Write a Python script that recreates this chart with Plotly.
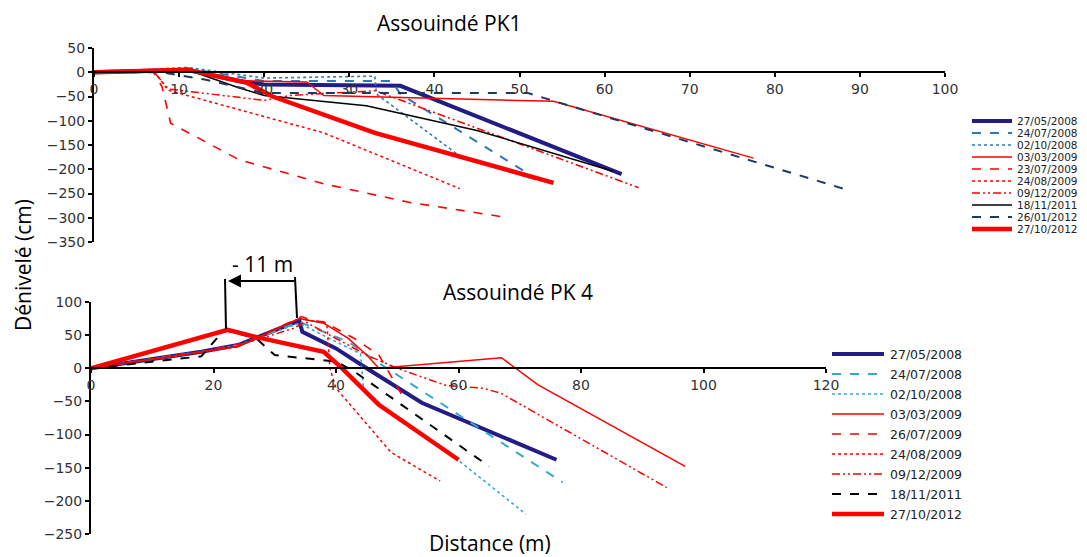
import plotly.graph_objects as go

W, H = 1087, 557

# ---------------- Data: Assouindé PK1 ----------------
pk1_names = ["27/05/2008", "24/07/2008", "02/10/2008", "03/03/2009", "23/07/2009",
             "24/08/2009", "09/12/2009", "18/11/2011", "26/01/2012", "27/10/2012"]
pk1_x = [
    [0, 5, 11, 17, 20, 36, 62],
    [0, 11, 20, 35, 36, 52],
    [0, 11, 20, 33, 33.2, 43, 52],
    [0, 11, 18, 25, 27, 54, 77.5],
    [0, 7, 8, 9, 17, 27, 37, 48],
    [0, 7, 8, 8.7, 27, 43],
    [0, 7, 8.5, 9, 20, 23, 33, 64],
    [0, 11, 17, 20, 32, 45, 61],
    [0, 8, 13, 20, 51, 89],
    [0, 11, 18, 21, 33, 43, 54],
]
pk1_y = [
    [0, 2, 5, -18, -25, -28, -210],
    [0, 8, -18, -18, -45, -220],
    [0, 10, -12, -8, -45, -173, -222],
    [0, 5, -18, -20, -48, -60, -177],
    [0, 0, -30, -105, -180, -230, -268, -298],
    [0, 2, -20, -37, -125, -240],
    [0, 2, -30, -35, -58, -48, -38, -238],
    [0, 5, -32, -48, -69, -120, -204],
    [0, 0, -15, -43, -43, -245],
    [0, 5, -22, -50, -125, -175, -228],
]

# ---------------- Data: Assouindé PK 4 ----------------
pk4_names = ["27/05/2008", "24/07/2008", "02/10/2008", "03/03/2009", "26/07/2009",
             "24/08/2009", "09/12/2009", "18/11/2011", "27/10/2012"]
pk4_x = [
    [0, 18, 24, 34, 34.5, 40, 45, 54, 76],
    [0, 18, 24, 34, 42, 47, 77],
    [0, 18, 24, 34, 40, 44, 44.5, 48, 60, 71],
    [0, 18, 24, 34, 38, 42, 45, 47, 67, 73, 97],
    [0, 18, 24, 34.4, 36, 38, 43, 47, 51],
    [0, 18, 24, 34, 38, 38.5, 39, 40, 49, 57],
    [0, 18, 26, 33, 35, 40, 45, 50, 54, 58, 64, 67, 94],
    [0, 18, 21, 22, 27, 30, 40, 43, 65],
    [0, 22.3, 27, 38, 41, 47, 60],
]
pk4_y = [
    [0, 25, 35, 72, 55, 30, 0, -52, -138],
    [0, 25, 35, 70, 40, 8, -172],
    [0, 25, 35, 68, 40, 22, -30, -60, -139, -220],
    [0, 25, 33, 75, 68, 45, 20, 0, 16, -25, -148],
    [0, 25, 33, 78, 72, 70, 45, 20, -44],
    [0, 25, 33, 75, 68, 68, 0, -30, -127, -170],
    [0, 25, 40, 60, 70, 45, 20, 0, -13, -26, -30, -38, -180],
    [0, 18, 50, 57, 45, 20, 10, -5, -148],
    [0, 58, 47, 25, 0, -55, -138],
]

pk1_ticks_x = [0, 10, 20, 30, 40, 50, 60, 70, 80, 90, 100]
pk1_ticks_y = [50, 0, -50, -100, -150, -200, -250, -300, -350]
pk4_ticks_x = [0, 20, 40, 60, 80, 100, 120]
pk4_ticks_y = [100, 50, 0, -50, -100, -150, -200, -250]

# ---------------- Styles ----------------
RED = "#FF0000"
NAVY = "#221C84"
BLUE = "#2E78B7"
CYAN = "#35A9CC"
DDOT = "8px,3px,2px,3px,2px,3px"
pk1_styles = [
    dict(color=NAVY, width=4, dash="solid"),
    dict(color=BLUE, width=2, dash="dash"),
    dict(color=BLUE, width=1.6, dash="dot"),
    dict(color=RED, width=1.5, dash="solid"),
    dict(color=RED, width=1.6, dash="dash"),
    dict(color=RED, width=1.5, dash="dot"),
    dict(color=RED, width=1.5, dash=DDOT),
    dict(color="#000000", width=1.5, dash="solid"),
    dict(color="#1F3A60", width=2, dash="dash"),
    dict(color=RED, width=4.5, dash="solid"),
]
pk4_styles = [
    dict(color=NAVY, width=4, dash="solid"),
    dict(color=CYAN, width=2, dash="dash"),
    dict(color=CYAN, width=1.6, dash="dot"),
    dict(color=RED, width=1.5, dash="solid"),
    dict(color=RED, width=1.6, dash="dash"),
    dict(color=RED, width=1.5, dash="dot"),
    dict(color=RED, width=1.5, dash=DDOT),
    dict(color="#000000", width=2, dash="dash"),
    dict(color=RED, width=4.5, dash="solid"),
]

# ---------------- Layout geometry (pixels -> paper) ----------------
OFF = 8  # the page body has an 8px margin


def px(v):
    return (v - OFF) / W


def py(v):
    return 1 - (v - OFF) / H


top_xd = [px(94), px(945)]
top_yd = [py(242), py(48)]
bot_xd = [px(91), px(826)]
bot_yd = [py(534), py(302)]
top_zero = top_yd[0] + (0 - (-350)) / 400 * (top_yd[1] - top_yd[0])
bot_zero = bot_yd[0] + (0 - (-250)) / 350 * (bot_yd[1] - bot_yd[0])

fig = go.Figure()
for n, xs, ys, st in zip(pk1_names, pk1_x, pk1_y, pk1_styles):
    fig.add_trace(go.Scatter(x=xs, y=ys, mode="lines", name=n, line=st,
                             xaxis="x", yaxis="y", showlegend=False))
for n, xs, ys, st in zip(pk4_names, pk4_x, pk4_y, pk4_styles):
    fig.add_trace(go.Scatter(x=xs, y=ys, mode="lines", name=n, line=st,
                             xaxis="x2", yaxis="y2", showlegend=False))

tickfont = dict(family="DejaVu Sans", size=14, color="#333333")
axis_common = dict(showgrid=False, zeroline=False, showline=True, linecolor="black",
                   linewidth=2, ticks="outside", ticklen=4, tickwidth=1.5,
                   tickcolor="black", tickfont=tickfont, automargin=False)

fig.update_layout(
    width=W, height=H,
    margin=dict(l=0, r=0, t=0, b=0),
    paper_bgcolor="white", plot_bgcolor="rgba(0,0,0,0)",
    showlegend=False,
    xaxis=dict(domain=top_xd, range=[0, 100], tickvals=pk1_ticks_x,
               anchor="free", position=top_zero, **axis_common),
    yaxis=dict(domain=top_yd, range=[-350, 50], tickvals=pk1_ticks_y,
               anchor="x", **axis_common),
    xaxis2=dict(domain=bot_xd, range=[0, 120], tickvals=pk4_ticks_x,
                anchor="free", position=bot_zero, **axis_common),
    yaxis2=dict(domain=bot_yd, range=[-250, 100], tickvals=pk4_ticks_y,
                anchor="x2", **axis_common),
)

annots = []
shapes = []
title_font = dict(family="Open Sans", size=21, color="black")
annots.append(dict(text="Assouindé PK1", x=px(449), y=1.0, xref="paper", yref="paper",
                   showarrow=False, font=title_font, xanchor="center", yanchor="top",
                   borderpad=0))
annots.append(dict(text="Assouindé PK 4", x=px(518), y=py(292), xref="paper", yref="paper",
                   showarrow=False, font=title_font, xanchor="center", yanchor="middle"))
annots.append(dict(text="Dénivelé (cm)", x=0.0, y=py(265), xref="paper", yref="paper",
                   showarrow=False, font=title_font, textangle=-90, borderpad=0,
                   xanchor="left", yanchor="middle"))
annots.append(dict(text="Distance (m)", x=px(490), y=py(543), xref="paper", yref="paper",
                   showarrow=False, font=title_font, xanchor="center", yanchor="middle"))
annots.append(dict(text="- 11 m", x=px(262), y=py(264), xref="paper", yref="paper",
                   showarrow=False, font=title_font, xanchor="center", yanchor="middle"))
# arrow
annots.append(dict(text="", x=px(228), y=py(281), xref="paper", yref="paper",
                   ax=68, ay=0, axref="pixel", ayref="pixel", showarrow=True,
                   arrowhead=2, arrowsize=1.3, arrowwidth=2, arrowcolor="black"))
shapes.append(dict(type="line", xref="paper", yref="paper", x0=px(225), x1=px(226),
                   y0=py(279), y1=py(329), line=dict(color="black", width=2)))
shapes.append(dict(type="line", xref="paper", yref="paper", x0=px(295), x1=px(297),
                   y0=py(277), y1=py(318), line=dict(color="black", width=2)))

# custom legends
leg_font1 = dict(family="DejaVu Sans", size=10.5, color="#222222")
for i, (n, st) in enumerate(zip(pk1_names, pk1_styles)):
    yy = 121 + 12 * i
    shapes.append(dict(type="line", xref="paper", yref="paper", x0=px(972), x1=px(1012),
                       y0=py(yy), y1=py(yy), line=st))
    annots.append(dict(text=n, x=px(1015), y=py(yy), xref="paper", yref="paper",
                       showarrow=False, font=leg_font1, xanchor="left", yanchor="middle"))
leg_font2 = dict(family="DejaVu Sans", size=12.5, color="#222222")
for i, (n, st) in enumerate(zip(pk4_names, pk4_styles)):
    yy = 354 + 20 * i
    shapes.append(dict(type="line", xref="paper", yref="paper", x0=px(832), x1=px(884),
                       y0=py(yy), y1=py(yy), line=st))
    annots.append(dict(text=n, x=px(888), y=py(yy), xref="paper", yref="paper",
                       showarrow=False, font=leg_font2, xanchor="left", yanchor="middle"))

fig.update_layout(annotations=annots, shapes=shapes)
fig.write_html("out.html")
